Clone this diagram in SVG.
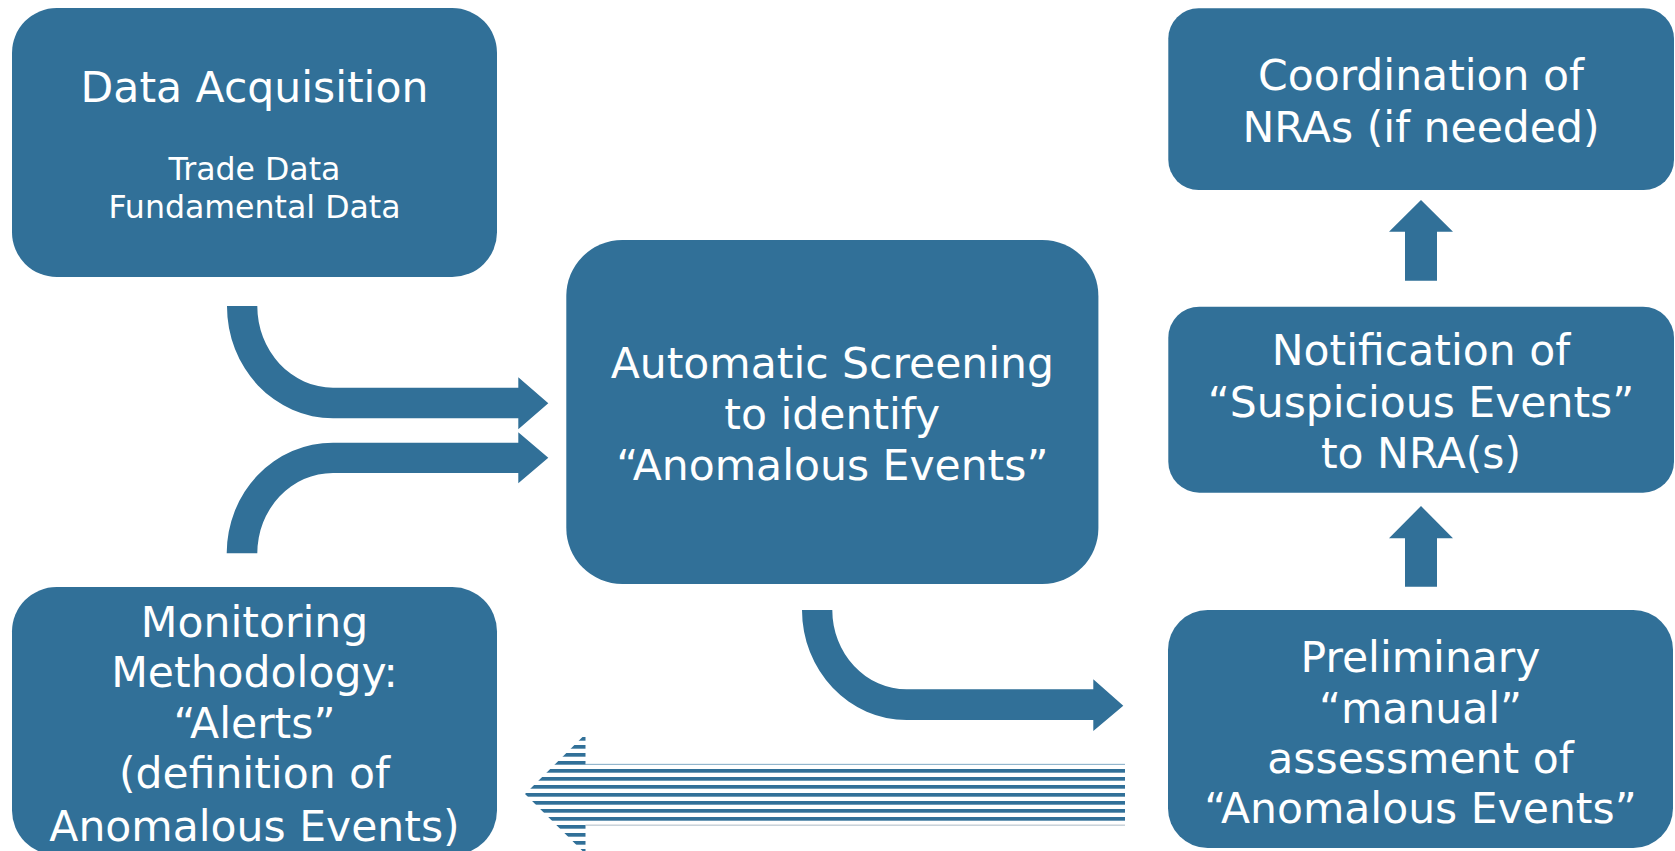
<svg xmlns="http://www.w3.org/2000/svg" width="1675" height="851" viewBox="0 0 1675 851">
<style>
.box{fill:#317098;}
.t{font-family:"DejaVu Sans","Liberation Sans",sans-serif;fill:#ffffff;text-anchor:middle;font-size:42.5px;}
.s{font-size:31.6px;}
.arr{fill:#317098;}
</style>
<defs>
<pattern id="stripes" patternUnits="userSpaceOnUse" x="0" y="1" width="8" height="8">
<rect x="0" y="0" width="8" height="3.7" fill="#317098"/>
</pattern>
</defs>
<rect width="1675" height="851" fill="#ffffff"/>
<g id="connectors">
<path class="arr" d="M227,306 A106,112 0 0 0 333,418.3 L518.3,418.3 L518.3,429.3 L548.3,403.3 L518.3,377.3 L518.3,387.7 L333,387.7 A76,81.7 0 0 1 257.3,306 Z"/>
<path class="arr" d="M226.7,553.3 A106.3,110.6 0 0 1 333,442.7 L518.3,442.7 L518.3,432.3 L548.3,457.7 L518.3,483.3 L518.3,473 L333,473 A75.7,80.3 0 0 0 257.3,553.3 Z"/>
<path class="arr" d="M802,610 A104.7,110 0 0 0 906.7,720 L1093.3,720 L1093.3,731 L1123.3,705.7 L1093.3,679.3 L1093.3,689.3 L906.7,689.3 A74.4,79.3 0 0 1 832.3,610 Z"/>
<path class="arr" d="M1405,280.7 L1405,231.7 L1389,231.7 L1421,200 L1453,231.7 L1437,231.7 L1437,280.7 Z"/>
<path class="arr" d="M1405,586.7 L1405,538.3 L1389,538.3 L1421,506 L1453,538.3 L1437,538.3 L1437,586.7 Z"/>
<path fill="url(#stripes)" d="M525,794 L585.5,734 L585.5,764 L1125,764 L1125,825.3 L585.5,825.3 L585.5,854 Z"/>
<line x1="585.5" y1="764.3" x2="1125" y2="764.3" stroke="#9dbdd2" stroke-width="1"/>
<line x1="585.5" y1="825" x2="1125" y2="825" stroke="#c6cbd1" stroke-width="1"/>
</g>
<g id="data-acquisition">
<rect class="box" x="12" y="8" width="485" height="269" rx="44.8"/>
<text class="t" x="254.5" y="102">Data Acquisition</text>
<text class="t s" x="254.5" y="180">Trade Data</text>
<text class="t s" x="254.5" y="218">Fundamental Data</text>
</g>
<g id="automatic-screening">
<rect class="box" x="566.3" y="240" width="532.1" height="344" rx="56"/>
<text class="t" x="832.3" y="377.7">Automatic Screening</text>
<text class="t" x="832.3" y="429">to identify</text>
<text class="t" x="832.3" y="480">“Anomalous Events”</text>
</g>
<g id="monitoring-methodology">
<rect class="box" x="12" y="587" width="485" height="268" rx="44.6"/>
<text class="t" x="254.5" y="636.7">Monitoring</text>
<text class="t" x="254.5" y="686.7">Methodology:</text>
<text class="t" x="254.5" y="738.3">“Alerts”</text>
<text class="t" x="254.5" y="788.3">(definition of</text>
<text class="t" x="254.5" y="840.7">Anomalous Events)</text>
</g>
<g id="coordination">
<rect class="box" x="1168.3" y="8.3" width="505.7" height="181.7" rx="30.3"/>
<text class="t" x="1421" y="90">Coordination of</text>
<text class="t" x="1421" y="141.7">NRAs (if needed)</text>
</g>
<g id="notification">
<rect class="box" x="1168.3" y="306.7" width="505.7" height="186" rx="31"/>
<text class="t" x="1421" y="365">Notification of</text>
<text class="t" x="1421" y="416.7">“Suspicious Events”</text>
<text class="t" x="1421" y="467.7">to NRA(s)</text>
</g>
<g id="preliminary-assessment">
<rect class="box" x="1168" y="610" width="505" height="238" rx="39.7"/>
<text class="t" x="1420.5" y="671.7">Preliminary</text>
<text class="t" x="1420.5" y="723.3">“manual”</text>
<text class="t" x="1420.5" y="773.3">assessment of</text>
<text class="t" x="1420.5" y="823.3">“Anomalous Events”</text>
</g>
</svg>
